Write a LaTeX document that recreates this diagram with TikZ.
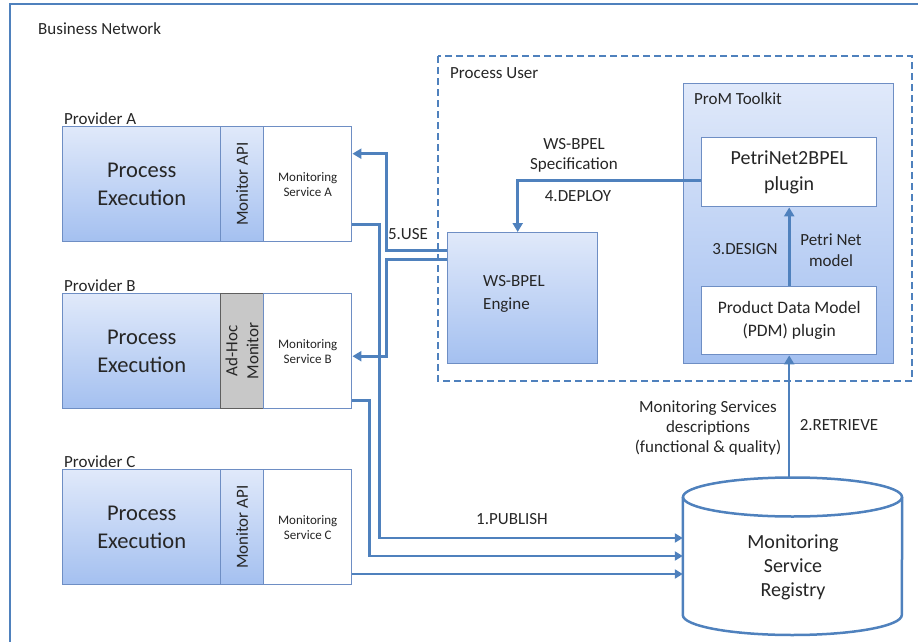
\documentclass[tikz,border=0pt]{standalone}
\usepackage{fontspec}
\setmainfont{Carlito}
\usetikzlibrary{arrows.meta}

\definecolor{conn}{RGB}{79,129,189}
\definecolor{boxline}{RGB}{110,142,196}
\definecolor{bluetop}{RGB}{224,233,250}
\definecolor{bluebot}{RGB}{164,192,240}
\definecolor{adhocfill}{RGB}{200,200,200}
\definecolor{adhocline}{RGB}{95,95,95}
\definecolor{ink}{RGB}{38,38,38}

\newcommand{\fs}[2]{\fontsize{#1}{#2}\selectfont}

\begin{document}
\begin{tikzpicture}[x=1pt,y=-1pt,
  every node/.style={text=ink},
  shadebox/.style={draw=boxline, line width=1.4pt, top color=bluetop, bottom color=bluebot,
    anchor=north west, inner sep=0pt},
  plainbox/.style={draw=boxline, line width=1.4pt, fill=white, anchor=north west, inner sep=0pt},
  adhocbox/.style={draw=adhocline, line width=1.2pt, fill=adhocfill, anchor=north west, inner sep=0pt},
  lbl/.style={inner sep=0pt, align=center, font=\fs{17}{21}},
  title/.style={inner sep=0pt, anchor=base west, font=\fs{17}{21}},
  thickconn/.style={draw=conn, line width=3pt, -{Triangle[length=9pt,width=10pt]}},
  pubconn/.style={draw=conn, line width=2.2pt, -{Triangle[length=8pt,width=9pt]}},
  thinconn/.style={draw=conn, line width=2.2pt, -{Triangle[length=9pt,width=10pt]}},
]
\useasboundingbox (0,0) rectangle (918,642);

% outer frame of the business network
\draw[conn, line width=2.5pt] (10,4) rectangle (930,660);
\node[title] (bn) at (38,35) {Business Network};

% process user area
\draw[conn, line width=2pt, dash pattern=on 7pt off 4pt] (438,56) rectangle (912,381);
\node[title] (pu) at (450,78) {Process User};

% ---------- providers ----------
% Provider A
\node[title] (provA) at (64,124) {Provider A};
\node[shadebox, minimum width=158pt, minimum height=115pt, align=center, font=\fs{22.5}{28}] (peA) at (62,126) {Process\\Execution};
\node[shadebox, minimum width=43pt, minimum height=115pt] (apiA) at (220,126) {};
\node[inner sep=0pt, rotate=90, font=\fs{17}{21}] (apiAt) at (apiA.center) {Monitor API};
\node[plainbox, minimum width=88pt, minimum height=115pt, align=center, font=\fs{13}{15}] (msA) at (263,126) {Monitoring\\Service A};

% Provider B
\node[title] (provB) at (64,291) {Provider B};
\node[shadebox, minimum width=158pt, minimum height=115pt, align=center, font=\fs{22.5}{28}] (peB) at (62,293) {Process\\Execution};
\node[adhocbox, minimum width=43pt, minimum height=115pt] (apiB) at (220,293) {};
\node[inner sep=0pt, rotate=90, align=center, font=\fs{17}{21}] (apiBt) at (apiB.center) {Ad-Hoc\\Monitor};
\node[plainbox, minimum width=88pt, minimum height=115pt, align=center, font=\fs{13}{15}] (msB) at (263,293) {Monitoring\\Service B};

% Provider C
\node[title] (provC) at (64,467) {Provider C};
\node[shadebox, minimum width=158pt, minimum height=115pt, align=center, font=\fs{22.5}{28}] (peC) at (62,469) {Process\\Execution};
\node[shadebox, minimum width=43pt, minimum height=115pt] (apiC) at (220,469) {};
\node[inner sep=0pt, rotate=90, font=\fs{17}{21}] (apiCt) at (apiC.center) {Monitor API};
\node[plainbox, minimum width=88pt, minimum height=115pt, align=center, font=\fs{13}{15}] (msC) at (263,469) {Monitoring\\Service C};

% ---------- process user side ----------
\node[shadebox, minimum width=150pt, minimum height=131pt] (eng) at (447,232) {};
\node[inner sep=0pt, anchor=west, align=left, font=\fs{17}{23}] (engt) at (483,294) {WS-BPEL\\Engine};

\node[shadebox, minimum width=210pt, minimum height=280pt] (prom) at (683,83) {};
\node[title] (promt) at (694,104) {ProM Toolkit};

\node[plainbox, minimum width=175pt, minimum height=69pt, align=center, font=\fs{20}{26}] (pn) at (701,137) {PetriNet2BPEL\\plugin};
\node[plainbox, minimum width=175pt, minimum height=68pt, align=center, font=\fs{17.5}{23}] (pdm) at (701,286) {Product Data Model\\(PDM) plugin};

% ---------- registry (cylinder) ----------
\node[minimum width=219pt, minimum height=157pt, inner sep=0pt] (reg) at (792.5,556.5) {};
\draw[conn, line width=2.5pt]
  (reg.west |- 0,497) -- (reg.west |- 0,615)
  arc[start angle=180, end angle=360, x radius=109.5pt, y radius=20pt]
  -- (reg.east |- 0,497);
\draw[conn, line width=2.5pt] (792.5,497) ellipse[x radius=109.5pt, y radius=19.5pt];
\node[inner sep=0pt, align=center, font=\fs{20}{24}] (regt) at (793,567) {Monitoring\\Service\\Registry};

% ---------- connectors ----------
\coordinate (inA) at ([yshift=18.5pt]reg.west);
\coordinate (inB) at ([yshift=0.5pt]reg.west);
\coordinate (inC) at ([yshift=-17.5pt]reg.west);

% 1. publish
\draw[pubconn] ([yshift=18pt]msA.south east) -- ++(27,0) |- (inA);
\draw[pubconn] ([yshift=9pt]msB.south east) -- ++(17,0) |- (inB);
\draw[pubconn] (inC -| msC.east) -- (inC);
\node[lbl] (publ) at (512,519) {1.PUBLISH};

% 2. retrieve
\draw[thinconn] (pdm.south |- reg.north) -- (pdm.south);
\node[lbl, font=\fs{17}{20}] (retd) at (708,428) {Monitoring Services\\descriptions\\(functional \& quality)};
\node[lbl] (retl) at (839,425) {2.RETRIEVE};

% 3. design
\draw[thinconn, line width=2.6pt] (pdm.north) -- (pn.south);
\node[lbl] (desl) at (745,249) {3.DESIGN};
\node[lbl] (desd) at (831,250) {Petri Net\\model};

% 4. deploy
\draw[thickconn] ([yshift=-8.5pt]pn.west) -| ([xshift=-5pt]eng.north);
\node[lbl, font=\fs{17}{20}] (depd) at (574,155) {WS-BPEL\\Specification};
\node[lbl] (depl) at (578,196) {4.DEPLOY};

% 5. use
\draw[thickconn] ([yshift=47.5pt]eng.west) -- ++(-61,0) |- ([yshift=30.5pt]msA.east);
\draw[thickconn] ([yshift=38.5pt]eng.west) -- ++(-61,0) |- ([yshift=-5pt]msB.east);
\node[lbl] (usel) at (408,234) {5.USE};

\end{tikzpicture}
\end{document}
